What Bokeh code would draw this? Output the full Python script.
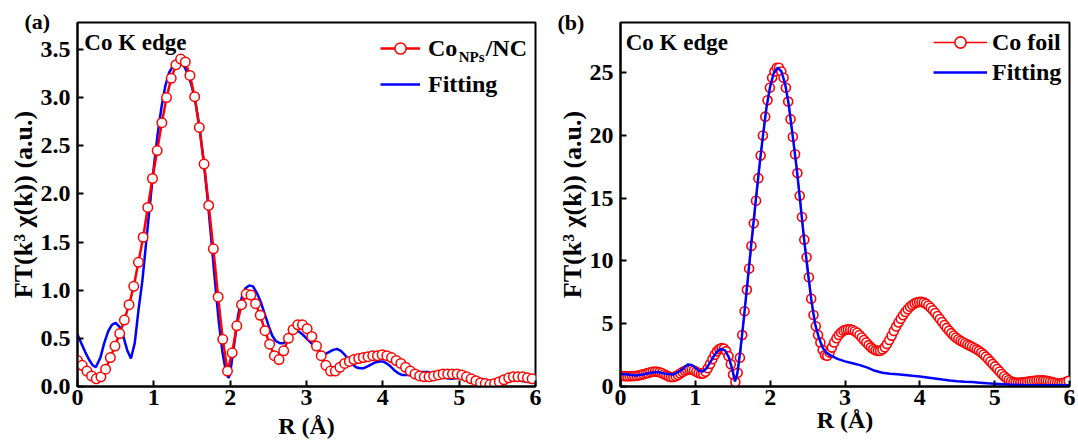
from bokeh.plotting import figure
from bokeh.layouts import row
from bokeh.models import Legend, LegendItem, Label, FixedTicker, PrintfTickFormatter, Range1d
from bokeh.core.properties import value
from bokeh.embed import file_html
from bokeh.resources import INLINE

# ---------------- data: panel (a) Co_NPs/NC ----------------
a_exp_r = [0.000, 0.061, 0.123, 0.184, 0.246, 0.307, 0.368, 0.430, 0.491, 0.553,
           0.614, 0.675, 0.737, 0.798, 0.860, 0.921, 0.982, 1.044, 1.105, 1.166,
           1.228, 1.289, 1.351, 1.412, 1.473, 1.535, 1.596, 1.658, 1.719, 1.780,
           1.842, 1.903, 1.965, 2.026, 2.087, 2.149, 2.210, 2.272, 2.333, 2.394,
           2.456, 2.517, 2.579, 2.640, 2.701, 2.763, 2.824, 2.886, 2.947, 3.008,
           3.070, 3.131, 3.193, 3.254, 3.315, 3.377, 3.438, 3.500, 3.561, 3.622,
           3.684, 3.745, 3.806, 3.868, 3.929, 3.991, 4.052, 4.114, 4.175, 4.236,
           4.298, 4.359, 4.421, 4.482, 4.543, 4.605, 4.666, 4.728, 4.789, 4.850,
           4.912, 4.973, 5.035, 5.096, 5.157, 5.219, 5.280, 5.342, 5.403, 5.464,
           5.526, 5.587, 5.649, 5.710, 5.771, 5.833, 5.894, 5.956]
a_exp_ft = [0.27, 0.22, 0.16, 0.11, 0.08, 0.10, 0.18, 0.30, 0.42, 0.55,
            0.69, 0.85, 1.04, 1.29, 1.55, 1.86, 2.16, 2.45, 2.74, 3.00,
            3.20, 3.34, 3.40, 3.37, 3.23, 3.01, 2.69, 2.31, 1.88, 1.43,
            0.93, 0.49, 0.16, 0.35, 0.63, 0.85, 0.96, 0.95, 0.86, 0.74,
            0.58, 0.44, 0.32, 0.28, 0.37, 0.50, 0.59, 0.64, 0.64, 0.60,
            0.52, 0.42, 0.32, 0.22, 0.16, 0.16, 0.20, 0.24, 0.26, 0.28,
            0.29, 0.30, 0.31, 0.32, 0.32, 0.33, 0.32, 0.30, 0.27, 0.24,
            0.20, 0.16, 0.13, 0.11, 0.10, 0.10, 0.11, 0.12, 0.13, 0.13,
            0.13, 0.13, 0.12, 0.10, 0.08, 0.06, 0.04, 0.03, 0.02, 0.03,
            0.05, 0.07, 0.09, 0.10, 0.10, 0.10, 0.09, 0.08]

a_fit_r = [0.00, 0.05, 0.10, 0.15, 0.20, 0.24, 0.30, 0.35, 0.40, 0.45,
           0.50, 0.55, 0.60, 0.65, 0.70, 0.75, 0.80, 0.85, 0.90, 0.95,
           1.00, 1.05, 1.10, 1.15, 1.20, 1.25, 1.30, 1.35, 1.40, 1.45,
           1.50, 1.55, 1.60, 1.65, 1.70, 1.75, 1.80, 1.85, 1.90, 1.95,
           1.98, 2.00, 2.05, 2.10, 2.15, 2.20, 2.25, 2.30, 2.35, 2.40,
           2.45, 2.50, 2.55, 2.60, 2.65, 2.70, 2.75, 2.80, 2.85, 2.90,
           2.95, 3.00, 3.05, 3.10, 3.15, 3.20, 3.25, 3.30, 3.35, 3.40,
           3.45, 3.50, 3.55, 3.60, 3.65, 3.70, 3.75, 3.80, 3.85, 3.90,
           3.95, 4.00, 4.05, 4.10, 4.15, 4.20, 4.25, 4.30, 4.35, 4.40,
           4.45, 4.50, 4.55, 4.60, 4.65, 4.70, 4.80, 4.90, 5.00, 5.10,
           5.20, 5.30, 5.40, 5.50, 5.60, 5.70, 5.80, 5.90, 6.00]
a_fit_ft = [0.54, 0.45, 0.36, 0.28, 0.22, 0.20, 0.30, 0.45, 0.57, 0.64,
            0.66, 0.62, 0.52, 0.38, 0.29, 0.45, 0.80, 1.10, 1.50, 1.90,
            2.28, 2.62, 2.90, 3.12, 3.26, 3.33, 3.36, 3.36, 3.32, 3.24,
            3.11, 2.93, 2.68, 2.36, 1.98, 1.55, 1.10, 0.68, 0.35, 0.13,
            0.09, 0.14, 0.42, 0.72, 0.92, 1.02, 1.05, 1.04, 0.97, 0.88,
            0.76, 0.64, 0.53, 0.47, 0.45, 0.45, 0.49, 0.55, 0.58, 0.57,
            0.54, 0.50, 0.46, 0.42, 0.38, 0.35, 0.34, 0.36, 0.38, 0.39,
            0.37, 0.33, 0.28, 0.23, 0.20, 0.19, 0.19, 0.21, 0.23, 0.25,
            0.26, 0.26, 0.24, 0.21, 0.17, 0.14, 0.12, 0.12, 0.12, 0.13,
            0.14, 0.15, 0.15, 0.15, 0.13, 0.11, 0.09, 0.08, 0.09, 0.08,
            0.06, 0.04, 0.03, 0.04, 0.05, 0.06, 0.06, 0.05, 0.04]

# ---------------- data: panel (b) Co foil ----------------
b_exp_r = [0.000, 0.031, 0.061, 0.092, 0.123, 0.154, 0.184, 0.215, 0.246, 0.276,
           0.307, 0.338, 0.368, 0.399, 0.430, 0.461, 0.491, 0.522, 0.553, 0.583,
           0.614, 0.645, 0.675, 0.706, 0.737, 0.768, 0.798, 0.829, 0.860, 0.890,
           0.921, 0.952, 0.982, 1.013, 1.044, 1.075, 1.105, 1.136, 1.167, 1.197,
           1.228, 1.259, 1.289, 1.320, 1.351, 1.382, 1.412, 1.443, 1.474, 1.504,
           1.535, 1.566, 1.596, 1.627, 1.658, 1.689, 1.719, 1.750, 1.781, 1.811,
           1.842, 1.873, 1.903, 1.934, 1.965, 1.996, 2.026, 2.057, 2.088, 2.118,
           2.149, 2.180, 2.210, 2.241, 2.272, 2.303, 2.333, 2.364, 2.395, 2.425,
           2.456, 2.487, 2.517, 2.548, 2.579, 2.610, 2.640, 2.671, 2.702, 2.732,
           2.763, 2.794, 2.824, 2.855, 2.886, 2.917, 2.947, 2.978, 3.009, 3.039,
           3.070, 3.101, 3.131, 3.162, 3.193, 3.224, 3.254, 3.285, 3.316, 3.346,
           3.377, 3.408, 3.438, 3.469, 3.500, 3.531, 3.561, 3.592, 3.623, 3.653,
           3.684, 3.715, 3.745, 3.776, 3.807, 3.838, 3.868, 3.899, 3.930, 3.960,
           3.991, 4.022, 4.052, 4.083, 4.114, 4.145, 4.175, 4.206, 4.237, 4.267,
           4.298, 4.329, 4.359, 4.390, 4.421, 4.452, 4.482, 4.513, 4.544, 4.574,
           4.605, 4.636, 4.666, 4.697, 4.728, 4.759, 4.789, 4.820, 4.851, 4.881,
           4.912, 4.943, 4.973, 5.004, 5.035, 5.066, 5.096, 5.127, 5.158, 5.188,
           5.219, 5.250, 5.280, 5.311, 5.342, 5.373, 5.403, 5.434, 5.465, 5.495,
           5.526, 5.557, 5.587, 5.618, 5.649, 5.680, 5.710, 5.741, 5.772, 5.802,
           5.833, 5.864, 5.894, 5.925, 5.956, 5.987]
b_exp_ft = [0.85, 0.84, 0.83, 0.82, 0.82, 0.83, 0.84, 0.86, 0.89, 0.93,
            0.98, 1.03, 1.08, 1.13, 1.17, 1.19, 1.18, 1.14, 1.07, 0.98,
            0.89, 0.80, 0.75, 0.76, 0.82, 0.92, 1.04, 1.15, 1.25, 1.32,
            1.35, 1.33, 1.27, 1.18, 1.08, 1.01, 1.03, 1.18, 1.45, 1.80,
            2.18, 2.52, 2.80, 2.98, 3.06, 3.02, 2.82, 2.42, 1.78, 0.95,
            0.35, 1.10, 2.30, 4.10, 6.00, 7.70, 9.40, 11.2, 13.0, 14.8,
            16.6, 18.4, 20.0, 21.5, 22.8, 23.8, 24.6, 25.1, 25.4, 25.4,
            25.1, 24.6, 23.8, 22.7, 21.3, 19.9, 18.5, 17.0, 15.2, 13.5,
            11.7, 10.3, 8.7, 7.0, 5.7, 4.8, 4.1, 3.5, 2.9, 2.5,
            2.45, 2.7, 3.1, 3.5, 3.85, 4.1, 4.3, 4.45, 4.52, 4.55,
            4.55, 4.5, 4.4, 4.28, 4.1, 3.9, 3.7, 3.5, 3.3, 3.12,
            2.98, 2.88, 2.84, 2.85, 2.95, 3.12, 3.38, 3.7, 4.05, 4.42,
            4.78, 5.1, 5.4, 5.68, 5.93, 6.15, 6.35, 6.5, 6.62, 6.7,
            6.74, 6.74, 6.7, 6.6, 6.45, 6.28, 6.08, 5.85, 5.62, 5.38,
            5.14, 4.9, 4.67, 4.45, 4.25, 4.06, 3.9, 3.76, 3.64, 3.54,
            3.44, 3.35, 3.26, 3.17, 3.07, 2.96, 2.84, 2.7, 2.55, 2.38,
            2.2, 2.0, 1.8, 1.6, 1.4, 1.2, 1.0, 0.82, 0.66, 0.52,
            0.42, 0.35, 0.31, 0.3, 0.31, 0.33, 0.35, 0.38, 0.41, 0.44,
            0.46, 0.48, 0.5, 0.5, 0.49, 0.47, 0.44, 0.4, 0.35, 0.3,
            0.26, 0.24, 0.25, 0.3, 0.38, 0.45]

b_fit_r = [0.00, 0.10, 0.20, 0.30, 0.40, 0.50, 0.60, 0.70, 0.80, 0.90,
           0.95, 1.00, 1.05, 1.10, 1.15, 1.20, 1.25, 1.30, 1.35, 1.40,
           1.45, 1.50, 1.53, 1.56, 1.60, 1.65, 1.70, 1.75, 1.80, 1.85,
           1.90, 1.95, 2.00, 2.05, 2.10, 2.15, 2.20, 2.25, 2.30, 2.35,
           2.40, 2.45, 2.50, 2.55, 2.60, 2.65, 2.70, 2.75, 2.80, 2.90,
           3.00, 3.10, 3.20, 3.30, 3.40, 3.50, 3.60, 3.70, 3.80, 3.90,
           4.00, 4.10, 4.20, 4.30, 4.40, 4.50, 4.60, 4.70, 4.80, 4.90,
           5.00, 5.20, 5.40, 5.60, 5.80, 6.00]
b_fit_ft = [1.00, 0.95, 0.88, 0.95, 1.10, 1.15, 1.02, 0.95, 1.25, 1.75,
            1.72, 1.50, 1.25, 1.20, 1.45, 1.95, 2.45, 2.85, 3.00, 2.85,
            2.30, 1.20, 0.40, 1.00, 2.80, 5.50, 8.50, 11.5, 14.4, 17.2,
            19.8, 22.2, 23.9, 25.0, 25.4, 25.1, 24.1, 22.4, 20.0, 17.6,
            14.8, 11.9, 9.3, 6.9, 5.0, 3.9, 3.1, 2.7, 2.5, 2.2,
            2.0, 1.85, 1.7, 1.5, 1.25, 1.1, 1.02, 0.98, 0.92, 0.85,
            0.80, 0.72, 0.64, 0.55, 0.48, 0.42, 0.38, 0.35, 0.30, 0.25,
            0.22, 0.15, 0.12, 0.10, 0.10, 0.10]

x_ticks = [0, 1, 2, 3, 4, 5, 6]
a_y_ticks = [0.0, 0.5, 1.0, 1.5, 2.0, 2.5, 3.0, 3.5]
b_y_ticks = [0, 5, 10, 15, 20, 25]

FONT = "Liberation Serif"
RED = "#ff0000"
BLUE = "#0000ff"
XLABEL = "R (Å)"
YLABEL = "FT(k³ χ(k)) (a.u.)"


def style(p, yticks, yfmt, panel_tag, tag_offset, tag_standoff, xlabel_standoff):
    p.xaxis.ticker = FixedTicker(ticks=x_ticks)
    p.yaxis.ticker = FixedTicker(ticks=yticks)
    p.yaxis.formatter = PrintfTickFormatter(format=yfmt)
    p.xaxis.formatter = PrintfTickFormatter(format="%d")
    for ax in (p.xaxis[0], p.yaxis[0]):
        ax.axis_line_width = 2
        ax.axis_line_color = "black"
        ax.major_tick_line_width = 2
        ax.major_tick_line_color = "black"
        ax.major_tick_in = 6
        ax.major_tick_out = 0
        ax.minor_tick_line_color = None
        ax.major_label_text_font = FONT
        ax.major_label_text_font_style = "bold"
        ax.major_label_text_font_size = "24px"
        ax.major_label_text_color = "black"
        ax.axis_label_text_font = FONT
        ax.axis_label_text_font_style = "bold"
        ax.axis_label_text_font_size = "26px"
        ax.axis_label_text_color = "black"
    p.xaxis.axis_label_text_font_size = "24px"
    p.xaxis.major_label_standoff = 3
    p.xaxis.axis_label_standoff = xlabel_standoff
    p.yaxis.major_label_standoff = 7
    p.yaxis.axis_label_standoff = 0
    p.xaxis.axis_label = XLABEL
    p.yaxis.axis_label = YLABEL
    p.xgrid.visible = False
    p.ygrid.visible = False
    p.outline_line_color = "black"
    p.outline_line_width = 2
    p.outline_line_alpha = 1.0
    p.background_fill_color = "white"
    p.border_fill_color = "white"
    # panel tag "(a)"/"(b)" as the plot title, pushed left of and down to the frame corner
    p.title.text = panel_tag
    p.title.align = "left"
    p.title.offset = tag_offset
    p.title.standoff = tag_standoff
    p.title.vertical_align = "bottom"
    p.title.text_font = FONT
    p.title.text_font_style = "bold"
    p.title.text_font_size = "22px"
    p.title.text_color = "black"


def txt(p, x, y, s, size="23px", align="left"):
    p.add_layout(Label(x=x, y=y, text=s, text_font=FONT, text_font_style="bold",
                       text_font_size=size, text_color="black", text_align=align,
                       text_baseline="middle"))


# ---------------- panel (a) ----------------
pa = figure(width=545, height=441, x_range=Range1d(0, 6), y_range=Range1d(0, 3.78),
            output_backend="svg", toolbar_location=None,
            min_border_left=77, min_border_right=10, min_border_top=22, min_border_bottom=55)
style(pa, a_y_ticks, "%.1f", "(a)", -53, -22, 5)
a_fit = pa.line(a_fit_r, a_fit_ft, line_color=BLUE, line_width=2.5)
a_line = pa.line(a_exp_r, a_exp_ft, line_color=RED, line_width=2.5)
a_sc = pa.scatter(a_exp_r, a_exp_ft, marker="circle", size=9.5, line_color=RED,
                  fill_color="white", line_width=1.5)
leg_a = Legend(items=[LegendItem(label=value("Co"), renderers=[a_line, a_sc]),
                      LegendItem(label=value("Fitting"), renderers=[a_fit])],
               location=(303, 288), glyph_width=40, glyph_height=28, label_height=28,
               label_standoff=8, spacing=8, padding=0, margin=0,
               border_line_color=None, background_fill_alpha=0,
               label_text_font=FONT, label_text_font_style="bold",
               label_text_font_size="24px", label_text_color="black")
pa.add_layout(leg_a)
txt(pa, 4.993, 3.418, "NPs", size="15px")
txt(pa, 5.347, 3.512, "/NC", size="24px")
txt(pa, 0.09, 3.574, "Co K edge")

# ---------------- panel (b) ----------------
pb = figure(width=533, height=441, x_range=Range1d(0, 6), y_range=Range1d(0, 29),
            output_backend="svg", toolbar_location=None,
            min_border_left=75, min_border_right=9, min_border_top=21, min_border_bottom=51)
style(pb, b_y_ticks, "%d", "(b)", -63, -25, -1)
b_line = pb.line(b_exp_r, b_exp_ft, line_color=RED, line_width=1.5)
b_sc = pb.scatter(b_exp_r, b_exp_ft, marker="circle", size=9, line_color=RED,
                  fill_color="white", line_width=1.6)
b_fit = pb.line(b_fit_r, b_fit_ft, line_color=BLUE, line_width=2.5)
leg_b = Legend(items=[LegendItem(label=value("Co foil"), renderers=[b_line, b_sc]),
                      LegendItem(label=value("Fitting"), renderers=[b_fit])],
               location=(313, 300), glyph_width=54, glyph_height=28, label_height=28,
               label_standoff=5, spacing=2, padding=0, margin=0,
               border_line_color=None, background_fill_alpha=0,
               label_text_font=FONT, label_text_font_style="bold",
               label_text_font_size="24px", label_text_color="black")
pb.add_layout(leg_b)
txt(pb, 0.07, 27.4, "Co K edge")

layout = row(pa, pb, spacing=0)
open("out.html", "w").write(file_html(layout, INLINE))
